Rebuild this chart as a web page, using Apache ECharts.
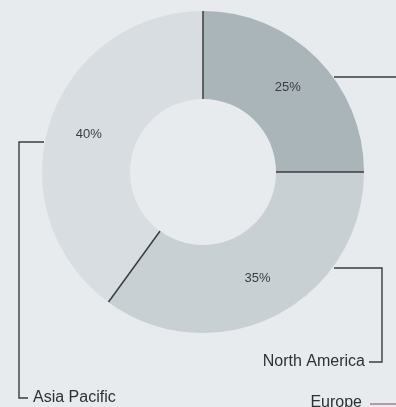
<!DOCTYPE html>
<html>
<head>
<meta charset="utf-8">
<script src="https://cdn.jsdelivr.net/npm/echarts@6/dist/echarts.min.js"></script>
<style>
html,body{margin:0;padding:0;background:#e8ebed;}
#chart{width:396px;height:407px;}
</style>
</head>
<body>
<div id="chart"></div>
<script>
var regions = ['Europe', 'North America', 'Asia Pacific'];
var shares = [25, 35, 40];
var segmentColors = ['#aab5b9', '#c8d0d4', '#d8dde1'];

var chart = echarts.init(document.getElementById('chart'));

var cx = 203, cy = 172, rIn = 73, rOut = 161;
var total = shares.reduce(function (a, b) { return a + b; }, 0);
var boundaries = [];
var acc = 0;
shares.forEach(function (v) { boundaries.push(acc / total * 100); acc += v; });

var sepSeries = boundaries.map(function (b) {
  return {
    type: 'line', coordinateSystem: 'polar', silent: true, symbol: 'none',
    lineStyle: { color: '#3a3d3f', width: 1.5 },
    data: [[0, b], [1, b]], z: 5
  };
});

var lineStyle = { stroke: '#3a3d3f', lineWidth: 1.4, fill: null };
var labelFont = '16px "Liberation Sans", sans-serif';

chart.setOption({
  backgroundColor: '#e8ebed',
  animation: false,
  polar: { center: [cx, cy], radius: [rIn, rOut] },
  angleAxis: { type: 'value', min: 0, max: 100, startAngle: 90, clockwise: true, show: false },
  radiusAxis: { type: 'value', min: 0, max: 1, show: false },
  series: [{
    type: 'pie',
    center: [cx, cy],
    radius: [rIn, rOut],
    startAngle: 90,
    clockwise: true,
    silent: true,
    label: {
      position: 'inside',
      formatter: '{c}%',
      color: '#3a3d3f',
      fontSize: 13,
      fontFamily: 'Liberation Sans, sans-serif'
    },
    labelLine: { show: false },
    itemStyle: { borderWidth: 0 },
    data: regions.map(function (n, i) {
      return { name: n, value: shares[i], itemStyle: { color: segmentColors[i] } };
    })
  }].concat(sepSeries),
  graphic: [
    { type: 'polyline', shape: { points: [[334, 77], [396, 77]] }, style: lineStyle },
    { type: 'polyline', shape: { points: [[334, 268], [382, 268], [382, 362], [369, 362]] }, style: lineStyle },
    { type: 'polyline', shape: { points: [[44, 142], [19, 142], [19, 398], [28, 398]] }, style: lineStyle },
    { type: 'polyline', shape: { points: [[370, 404], [396, 404]] }, style: { stroke: '#a06070', lineWidth: 1.2, fill: null } },
    { type: 'text', x: 365, y: 362, style: { text: regions[1], font: labelFont, fill: '#2e3032', textAlign: 'right', textVerticalAlign: 'middle' } },
    { type: 'text', x: 33, y: 398, style: { text: regions[2], font: labelFont, fill: '#2e3032', textAlign: 'left', textVerticalAlign: 'middle' } },
    { type: 'text', x: 362, y: 403, style: { text: regions[0], font: labelFont, fill: '#2e3032', textAlign: 'right', textVerticalAlign: 'middle' } }
  ]
});
</script>
</body>
</html>
